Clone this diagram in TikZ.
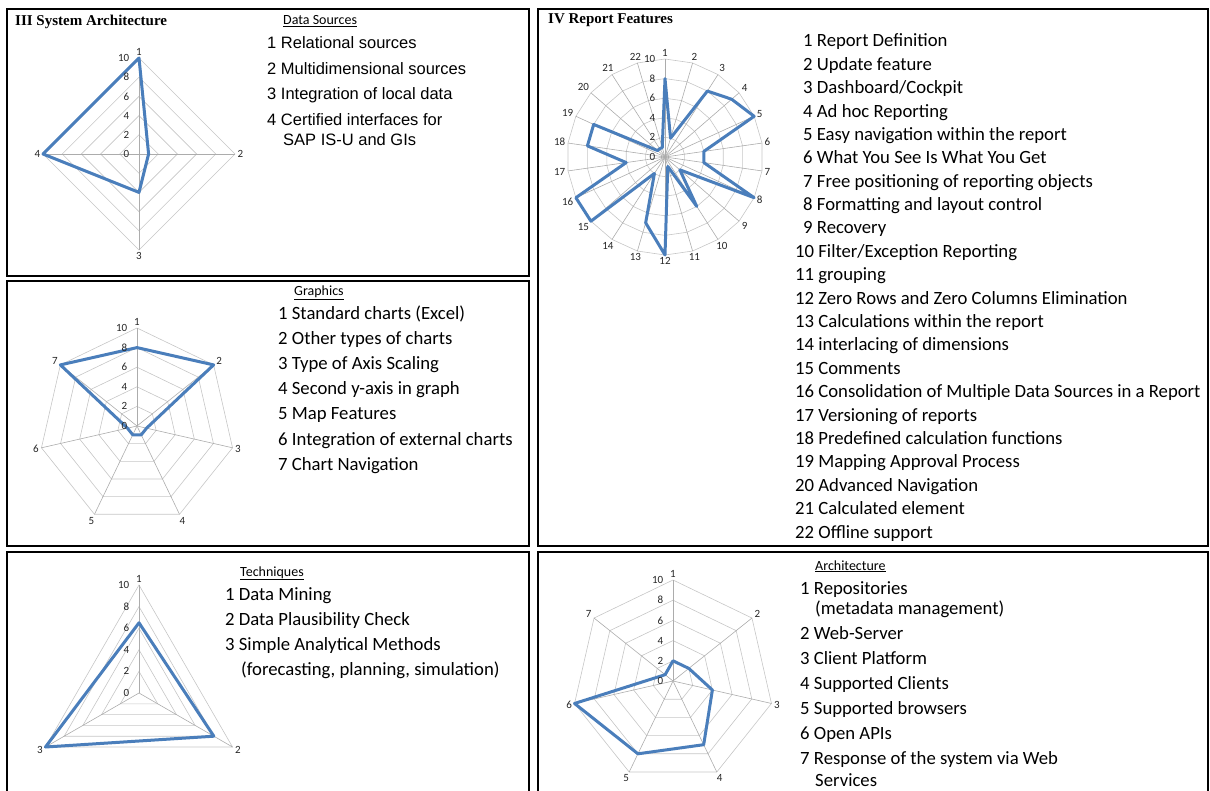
\documentclass[tikz,border=0pt]{standalone}
\usepackage{fontspec}
\setmainfont{Carlito}
\newfontfamily\arialfont{Liberation Sans}
\newfontfamily\titlefont{Liberation Serif}

\definecolor{seriesblue}{RGB}{74,126,187}

\tikzset{
  panel/.style={draw=black, line width=1.6pt},
  ring/.style={draw=gray!45, line width=0.6pt},
  spoke/.style={draw=gray!65, line width=0.6pt},
  series/.style={draw=seriesblue, line width=3pt, line join=round},
  axlabel/.style={font=\fontsize{11}{12}\selectfont, text=black!85, inner sep=2.5pt},
  ticklab/.style={font=\fontsize{11}{12}\selectfont, text=black!85, anchor=east, inner sep=0.5pt},
  item/.style={anchor=base west, inner sep=0pt, font=\fontsize{18.7}{22}\selectfont},
  itemA/.style={anchor=base west, inner sep=0pt, font=\arialfont\fontsize{16.5}{20}\selectfont},
  heading/.style={anchor=base west, inner sep=0pt, font=\fontsize{14}{16}\selectfont},
  paneltitle/.style={anchor=base west, inner sep=0pt, font=\titlefont\bfseries\fontsize{15}{17}\selectfont}
}

% radar chart: name, centre, number of axes, radius, values
\newcommand{\radarchart}[5]{%
  \begin{scope}[shift={#2}, x=1pt, y=1pt]
    \foreach \k in {2,4,...,10} {
      \draw[ring] (90:{\k*#4/10}) \foreach \j in {1,...,#3} { -- ({90-\j*360/#3}:{\k*#4/10}) } -- cycle;
    }
    \foreach \j in {1,...,#3} {
      \draw[spoke] (0,0) -- ({90-(\j-1)*360/#3}:#4);
    }
    \foreach \v [count=\j] in {#5} {
      \coordinate (#1-\j) at ({90-(\j-1)*360/#3}:{\v*#4/10});
    }
    \draw[series] (#1-1) \foreach \j in {2,...,#3} { -- (#1-\j) } -- cycle;
    \foreach \j in {1,...,#3} {
      \pgfmathsetmacro\ang{270-(\j-1)*360/#3}
      \node[axlabel, anchor=\ang] (#1-l\j) at ({90-(\j-1)*360/#3}:#4) {\j};
    }
    \foreach \k in {0,2,...,10} {
      \node[ticklab] (#1-t\k) at (-9,{\k*#4/10}) {\k};
    }
  \end{scope}}

\begin{document}
\begin{tikzpicture}[x=1pt, y=-1pt]

\useasboundingbox (0,0) rectangle (1210,791);

% frames
\draw[panel] (7,9) rectangle (529,276);
\draw[panel] (7,281) rectangle (529,546);
\draw[panel] (7,810) -- (7,552) -- (529,552) -- (529,810);
\draw[panel] (538,9) rectangle (1208,546);
\draw[panel] (538,810) -- (538,552) -- (1208,552) -- (1208,810);

% III System Architecture
\node[paneltitle] (titleIII) at (15,26) {III System Architecture};
\radarchart{src}{(139,154)}{4}{96}{10,1,4,10}
\node[heading] (srchead) at (283,25) {\underline{Data Sources}};
\node[itemA] (src1) at (267,49) {1 Relational sources};
\node[itemA] (src2) at (267,75) {2 Multidimensional sources};
\node[itemA] (src3) at (267,100) {3 Integration of local data};
\node[itemA] (src4) at (267,126) {4 Certified interfaces for};
\node[itemA] (src4b) at (283,146) {SAP IS-U and GIs};

% Graphics
\radarchart{gra}{(137,426)}{7}{98}{8,10,1,1,1,1,10}
\node[heading] (grahead) at (294,296) {\underline{Graphics}};
\node[item] (gra1) at (278,320) {1 Standard charts (Excel)};
\node[item] (gra2) at (278,345) {2 Other types of charts};
\node[item] (gra3) at (278,370) {3 Type of Axis Scaling};
\node[item] (gra4) at (278,395) {4 Second y-axis in graph};
\node[item] (gra5) at (278,420) {5 Map Features};
\node[item] (gra6) at (278,445) {6 Integration of external charts};
\node[item] (gra7) at (278,470) {7 Chart Navigation};

% Techniques
\radarchart{tec}{(139,693)}{3}{108}{6.5,8,10}
\node[heading] (techead) at (240,576) {\underline{Techniques}};
\node[item] (tec1) at (225,600) {1 Data Mining};
\node[item] (tec2) at (225,625) {2 Data Plausibility Check};
\node[item] (tec3) at (225,650) {3 Simple Analytical Methods};
\node[item] (tec3b) at (241,675) {(forecasting, planning, simulation)};

% IV Report Features
\node[paneltitle] (titleIV) at (548,24) {IV Report Features};
\radarchart{rep}{(665,157)}{22}{98}{8,2,8,9,10,4,4,10,2,6,1,10,7,2,10,10,4,8,8,1,1,1}
\node[item] (rep1) at (803,47) {1 Report Definition};
\node[item] (rep2) at (803,70.4) {2 Update feature};
\node[item] (rep3) at (803,93.8) {3 Dashboard/Cockpit};
\node[item] (rep4) at (803,117.1) {4 Ad hoc Reporting};
\node[item] (rep5) at (803,140.5) {5 Easy navigation within the report};
\node[item] (rep6) at (803,163.9) {6 What You See Is What You Get};
\node[item] (rep7) at (803,187.3) {7 Free positioning of reporting objects};
\node[item] (rep8) at (803,210.7) {8 Formatting and layout control};
\node[item] (rep9) at (803,234) {9 Recovery};
\node[item] (rep10) at (795,257.4) {10 Filter/Exception Reporting};
\node[item] (rep11) at (795,280.8) {11 grouping};
\node[item] (rep12) at (795,304.2) {12 Zero Rows and Zero Columns Elimination};
\node[item] (rep13) at (795,327.6) {13 Calculations within the report};
\node[item] (rep14) at (795,350.9) {14 interlacing of dimensions};
\node[item] (rep15) at (795,374.3) {15 Comments};
\node[item] (rep16) at (795,397.7) {16 Consolidation of Multiple Data Sources in a Report};
\node[item] (rep17) at (795,421.1) {17 Versioning of reports};
\node[item] (rep18) at (795,444.5) {18 Predefined calculation functions};
\node[item] (rep19) at (795,467.8) {19 Mapping Approval Process};
\node[item] (rep20) at (795,491.2) {20 Advanced Navigation};
\node[item] (rep21) at (795,514.6) {21 Calculated element};
\node[item] (rep22) at (795,538) {22 Offline support};

% Architecture
\radarchart{arc}{(673,681)}{7}{101}{2,2,4,7,8,10,1}
\node[heading] (archead) at (815,570) {\underline{Architecture}};
\node[item] (arc1) at (800,594) {1 Repositories};
\node[item] (arc1b) at (815,614) {(metadata management)};
\node[item] (arc2) at (800,639) {2 Web-Server};
\node[item] (arc3) at (800,664) {3 Client Platform};
\node[item] (arc4) at (800,689) {4 Supported Clients};
\node[item] (arc5) at (800,714) {5 Supported browsers};
\node[item] (arc6) at (800,739) {6 Open APIs};
\node[item] (arc7) at (800,764) {7 Response of the system via Web};
\node[item] (arc7b) at (815,786) {Services};

\end{tikzpicture}
\end{document}
